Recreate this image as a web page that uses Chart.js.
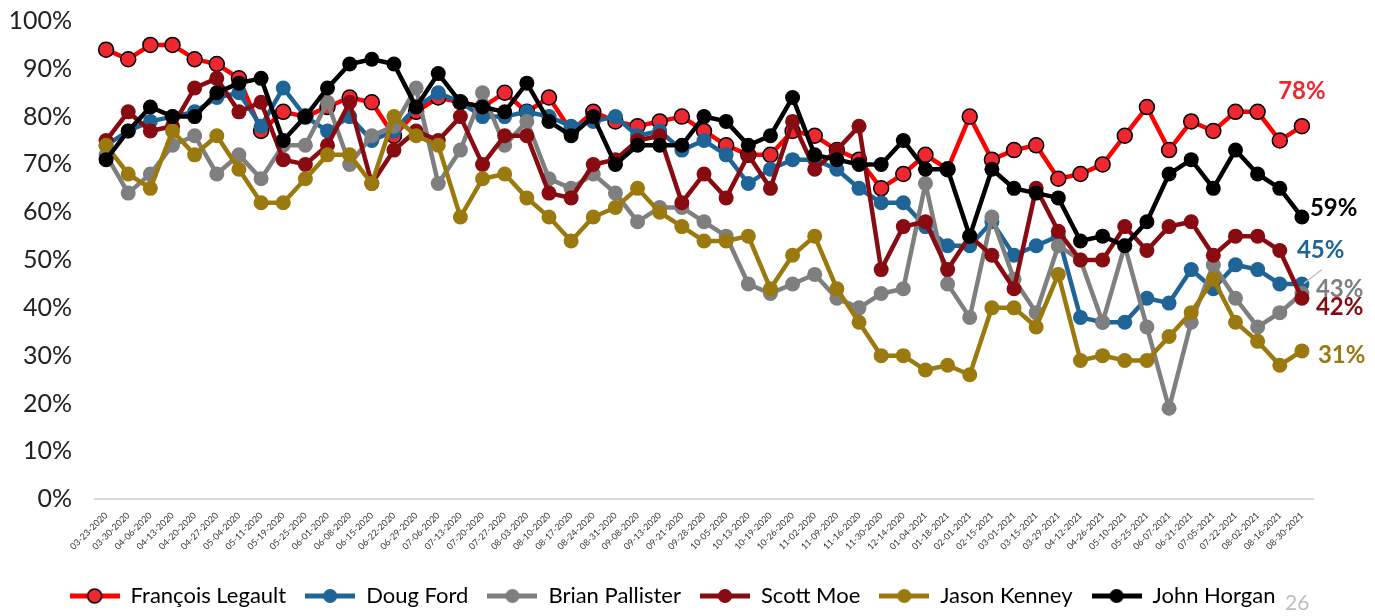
<!DOCTYPE html>
<html>
<head>
<meta charset="utf-8">
<script src="https://cdn.jsdelivr.net/npm/chart.js@4"></script>
<style>
  body { margin: 0; background: #fff; }
  .wrapper { position: relative; width: 1375px; height: 616px; }
  .page-num { position: absolute; left: 1285px; top: 589px; font: 21px Lato, sans-serif; color: #bfbfbf; }
</style>
</head>
<body>
<div class="wrapper">
  <canvas id="lineChart" width="1375" height="616"></canvas>
  <div class="page-num">26</div>
</div>
<script>
const dates = ['03-23-2020','03-30-2020','04-06-2020','04-13-2020','04-20-2020','04-27-2020','05-04-2020','05-11-2020','05-19-2020','05-25-2020',
  '06-01-2020','06-08-2020','06-15-2020','06-22-2020','06-29-2020','07-06-2020','07-13-2020','07-20-2020','07-27-2020','08-03-2020',
  '08-10-2020','08-17-2020','08-24-2020','08-31-2020','09-08-2020','09-13-2020','09-21-2020','09-28-2020','10-05-2020','10-13-2020',
  '10-19-2020','10-26-2020','11-02-2020','11-09-2020','11-16-2020','11-30-2020','12-14-2020','01-04-2021','01-18-2021','02-01-2021',
  '02-15-2021','03-01-2021','03-15-2021','03-29-2021','04-12-2021','04-26-2021','05-10-2021','05-25-2021','06-07-2021','06-21-2021',
  '07-05-2021','07-22-2021','08-02-2021','08-16-2021','08-30-2021'];

const legault   = [94,92,95,95,92,91,88,77,81,80,82,84,83,76,81,84,83,82,85,81,84,77,81,79,78,79,80,77,74,72,72,77,76,73,71,65,68,72,69,80,71,73,74,67,68,70,76,82,73,79,77,81,81,75,78];
const ford      = [74,77,79,80,81,84,85,78,86,80,77,80,75,77,82,85,83,80,80,81,80,78,79,80,76,77,73,75,72,66,69,71,71,69,65,62,62,57,53,53,58,51,53,55,38,37,37,42,41,48,44,49,48,45,45];
const pallister = [72,64,68,74,76,68,72,67,74,74,83,70,76,78,86,66,73,85,74,79,67,65,68,64,58,61,61,58,55,45,43,45,47,42,40,43,44,66,45,38,59,46,39,53,50,37,53,36,19,37,49,42,36,39,43];
const moe       = [75,81,77,78,86,88,81,83,71,70,74,83,66,73,77,75,80,70,76,76,64,63,70,71,75,76,62,68,63,72,65,79,69,73,78,48,57,58,48,55,51,44,65,56,50,50,57,52,57,58,51,55,55,52,42];
const kenney    = [74,68,65,77,72,76,69,62,62,67,72,72,66,80,76,74,59,67,68,63,59,54,59,61,65,60,57,54,54,55,44,51,55,44,37,30,30,27,28,26,40,40,36,47,29,30,29,29,34,39,46,37,33,28,31];
const horgan    = [71,77,82,80,80,85,87,88,75,80,86,91,92,91,82,89,83,82,81,87,79,76,80,70,74,74,74,80,79,74,76,84,72,71,70,70,75,69,69,55,69,65,64,63,54,55,53,58,68,71,65,73,68,65,59];

const names = ['François Legault', 'Doug Ford', 'Brian Pallister', 'Scott Moe', 'Jason Kenney', 'John Horgan'];
const series = [legault, ford, pallister, moe, kenney, horgan];

document.addEventListener('DOMContentLoaded', function() {
    const colors = ['#ff0000', '#1f6497', '#7f7f7f', '#870b10', '#9a7a0e', '#000000'];
    const pointFill = ['#ee2730', '#1f6497', '#7f7f7f', '#870b10', '#9a7a0e', '#000000'];
    const labelColors = ['#ee2730', '#1f6497', '#7f7f7f', '#870b10', '#9a7a0e', '#000000'];
    // offset of the end label from the last point, plus alignment
    const endOffsets = [[0, -35, 'center'], [-5, -34, 'left'], [14, -4, 'left'], [14, 9, 'left'], [16, 4, 'left'], [8, -9, 'left']];

    // little line + dot icons for the legend
    const legendIcons = colors.map((c, i) => {
        const cv = document.createElement('canvas');
        cv.width = 50; cv.height = 18;
        const g = cv.getContext('2d');
        g.strokeStyle = c; g.lineWidth = 5;
        g.beginPath(); g.moveTo(0, 9); g.lineTo(50, 9); g.stroke();
        g.beginPath(); g.arc(25, 9, 7, 0, Math.PI * 2);
        g.fillStyle = pointFill[i]; g.fill();
        if (i === 0) { g.lineWidth = 1.5; g.strokeStyle = '#000'; g.stroke(); }
        return cv;
    });

    const endLabels = {
        id: 'endLabels',
        afterDatasetsDraw(chart) {
            const ctx = chart.ctx;
            ctx.save();
            ctx.font = 'bold 24px Lato, sans-serif';
            ctx.textBaseline = 'middle';
            chart.data.datasets.forEach((ds, i) => {
                const meta = chart.getDatasetMeta(i);
                const pt = meta.data[meta.data.length - 1];
                const off = endOffsets[i];
                ctx.fillStyle = labelColors[i];
                ctx.textAlign = off[2];
                ctx.fillText(ds.data[ds.data.length - 1] + '%', pt.x + off[0], pt.y + off[1]);
                if (i === 2) {
                    // leader line for the grey label
                    ctx.strokeStyle = '#bfbfbf';
                    ctx.lineWidth = 1.5;
                    ctx.beginPath();
                    ctx.moveTo(pt.x + 2, pt.y - 10);
                    ctx.lineTo(pt.x + 20, pt.y - 24);
                    ctx.stroke();
                }
            });
            ctx.restore();
        }
    };

    // nudge the legend to where it sits in the slide
    const legendShift = {
        id: 'legendShift',
        afterLayout(chart) {
            const lg = chart.legend;
            lg.left += 16; lg.right += 16;
            lg.top += 3; lg.bottom += 3;
        }
    };

    const defaultGen = Chart.defaults.plugins.legend.labels.generateLabels;

    new Chart(document.getElementById('lineChart').getContext('2d'), {
        type: 'line',
        data: {
            labels: dates,
            datasets: series.map((d, i) => ({
                label: names[i],
                data: d,
                borderColor: colors[i],
                backgroundColor: pointFill[i],
                borderWidth: 4.5,
                pointRadius: 7.5,
                pointHoverRadius: 7.5,
                pointBackgroundColor: pointFill[i],
                pointBorderColor: i === 0 ? '#000' : pointFill[i],
                pointBorderWidth: i === 0 ? 1.5 : 0,
                fill: false,
                tension: 0,
                order: series.length - 1 - i
            }))
        },
        options: {
            responsive: false,
            animation: false,
            layout: { autoPadding: false, padding: { left: 0, right: 62, top: 21, bottom: 2 } },
            plugins: {
                tooltip: { enabled: false },
                legend: {
                    position: 'bottom',
                    labels: {
                        usePointStyle: true,
                        pointStyleWidth: 50,
                        boxHeight: 18,
                        padding: 19,
                        color: '#000',
                        font: { family: 'Lato, sans-serif', size: 22 },
                        sort: (a, b) => a.datasetIndex - b.datasetIndex,
                        generateLabels(chart) {
                            const items = defaultGen(chart);
                            items.forEach(it => { it.pointStyle = legendIcons[it.datasetIndex]; });
                            return items;
                        }
                    }
                }
            },
            scales: {
                x: {
                    offset: true,
                    grid: { display: false, offset: true },
                    border: { display: true, color: '#d9d9d9', width: 2 },
                    ticks: {
                        autoSkip: false,
                        minRotation: 45,
                        maxRotation: 45,
                        color: '#333',
                        font: { family: 'Lato, sans-serif', size: 9 }
                    },
                    afterFit(scale) {
                        scale.paddingLeft = 0;
                        scale.paddingRight = 0;
                        scale.height += 8;
                    }
                },
                y: {
                    min: 0,
                    max: 100,
                    grid: { display: false },
                    border: { display: false },
                    ticks: {
                        stepSize: 10,
                        padding: 15,
                        color: '#222',
                        font: { family: 'Lato, sans-serif', size: 25 },
                        callback: v => v + '%'
                    },
                    afterFit(scale) {
                        scale.width = 95;
                        scale.paddingTop = 0;
                        scale.paddingBottom = 0;
                    }
                }
            }
        },
        plugins: [endLabels, legendShift]
    });
});
</script>
</body>
</html>
